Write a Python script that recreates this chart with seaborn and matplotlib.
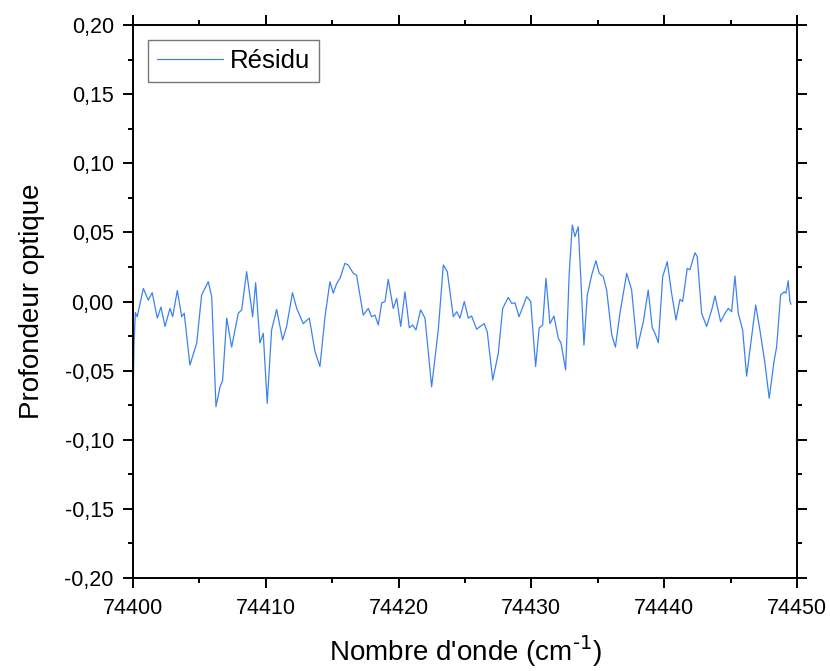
import matplotlib
matplotlib.use("Agg")
import matplotlib.pyplot as plt
import numpy as np
import pandas as pd
import seaborn as sns
from matplotlib.ticker import FuncFormatter, MultipleLocator

# Wavenumber offsets from 74400 cm-1 and residual optical depth
x_offset = [
    0.00, 0.08, 0.18, 0.32, 0.78, 1.15, 1.45, 1.83, 2.11, 2.41, 2.79, 2.99,
    3.34, 3.67, 3.86, 4.29, 4.80, 5.17, 5.67, 5.93, 6.25, 6.55, 6.75, 7.06,
    7.43, 7.93, 8.19, 8.56, 9.01, 9.24, 9.56, 9.81, 10.11, 10.44, 10.82, 11.27,
    11.57, 12.01, 12.33, 12.82, 13.28, 13.70, 14.08, 14.46, 14.83, 15.08, 15.34,
    15.59, 15.96, 16.21, 16.59, 16.84, 17.34, 17.72, 17.97, 18.22, 18.47, 18.73,
    18.98, 19.22, 19.60, 19.86, 20.16, 20.48, 20.81, 21.06, 21.31, 21.66, 21.99,
    22.49, 22.99, 23.37, 23.67, 24.12, 24.38, 24.62, 24.95, 25.25, 25.50, 25.88,
    26.45, 26.68, 27.09, 27.51, 27.84, 28.26, 28.52, 28.77, 29.07, 29.65, 29.95,
    30.32, 30.59, 30.85, 31.10, 31.40, 31.70, 32.03, 32.23, 32.58, 32.85, 33.08,
    33.28, 33.53, 33.73, 33.96, 34.21, 34.54, 34.86, 35.11, 35.41, 35.67, 36.05,
    36.33, 36.67, 37.18, 37.55, 37.97, 38.43, 38.80, 39.10, 39.31, 39.56, 39.89,
    40.23, 40.56, 40.89, 41.19, 41.39, 41.74, 41.94, 42.32, 42.49, 42.82, 43.20,
    43.58, 43.83, 44.25, 44.58, 44.83, 45.08, 45.33, 45.58, 45.91, 46.21, 46.59,
    46.89, 47.21, 47.59, 47.91, 48.27, 48.47, 48.77, 49.04, 49.17, 49.34, 49.47,
    49.55,
]
residu = [
    -0.075, -0.030, -0.008, -0.011, 0.0095, 0.001, 0.0064, -0.012, -0.004, -0.018,
    -0.005, -0.011, 0.008, -0.011, -0.0085, -0.046, -0.030, 0.0047, 0.0143, 0.0035,
    -0.076, -0.062, -0.057, -0.012, -0.033, -0.0085, -0.006, 0.0216, -0.011, 0.0136,
    -0.030, -0.023, -0.0736, -0.0206, -0.0057, -0.0278, -0.018, 0.0064, -0.005,
    -0.016, -0.012, -0.036, -0.047, -0.011, 0.0143, 0.006, 0.013, 0.0168, 0.0276,
    0.0264, 0.0204, 0.019, -0.0098, -0.005, -0.011, -0.0098, -0.017, -0.001, 0.0,
    0.016, -0.005, 0.0023, -0.018, 0.007, -0.019, -0.017, -0.0206, -0.006, -0.012,
    -0.0616, -0.0206, 0.0264, 0.0216, -0.011, -0.0074, -0.012, 0.0, -0.012, -0.0105,
    -0.020, -0.016, -0.022, -0.0568, -0.0375, -0.005, 0.003, -0.0013, -0.001, -0.011,
    0.0035, 0.0, -0.047, -0.019, -0.017, 0.0168, -0.016, -0.0105, -0.0266, -0.030,
    -0.0495, 0.0204, 0.0553, 0.047, 0.054, 0.0155, -0.0315, 0.0047, 0.019, 0.0295,
    0.0204, 0.018, 0.0083, -0.024, -0.033, -0.0085, 0.0204, 0.0083, -0.0339, -0.0146,
    0.0083, -0.019, -0.023, -0.0298, 0.018, 0.0288, 0.006, -0.0134, 0.0016, 0.0,
    0.024, 0.023, 0.0353, 0.0324, -0.0085, -0.018, -0.006, 0.004, -0.0146, -0.0085,
    -0.005, -0.0074, 0.0184, -0.0085, -0.0206, -0.054, -0.0255, -0.0025, -0.0206,
    -0.0447, -0.070, -0.0435, -0.0327, 0.0047, 0.007, 0.006, 0.015, 0.0, -0.002,
]
x_start = 74400

df = pd.DataFrame({"wavenumber": np.array(x_offset) + x_start, "residu": residu})

sns.set_theme(style="ticks")
plt.rcParams["font.family"] = ["Liberation Sans", "DejaVu Sans"]
plt.rcParams["mathtext.default"] = "regular"
plt.rcParams["text.color"] = "black"
plt.rcParams["axes.labelcolor"] = "black"

fig = plt.figure(figsize=(8.3, 6.71), dpi=100)
ax = fig.add_axes([0.1602, 0.1386, 0.8, 0.8241])

sns.lineplot(
    data=df, x="wavenumber", y="residu", ax=ax,
    color="#3d82f0", linewidth=0.9, sort=False, estimator=None, label="Résidu",
)

ax.set_xlim(74400, 74450)
ax.set_ylim(-0.20, 0.20)
ax.xaxis.set_major_locator(MultipleLocator(10))
ax.xaxis.set_minor_locator(MultipleLocator(5))
ax.yaxis.set_major_locator(MultipleLocator(0.05))
ax.yaxis.set_minor_locator(MultipleLocator(0.025))
ax.yaxis.set_major_formatter(FuncFormatter(lambda v, _: f"{v:.2f}".replace(".", ",").replace("-0,00", "0,00")))
ax.xaxis.set_major_formatter(FuncFormatter(lambda v, _: f"{v:.0f}"))

for side in ["left", "right", "top", "bottom"]:
    ax.spines[side].set_visible(True)
    ax.spines[side].set_linewidth(1.4)
    ax.spines[side].set_color("black")

ax.tick_params(which="both", direction="out", top=True, right=True, width=1.4,
               color="black", labelsize=15.5, labelcolor="black")
ax.tick_params(which="major", length=7.3)
ax.tick_params(which="minor", length=3.8)
ax.tick_params(axis="y", which="major", pad=6.5)
ax.tick_params(axis="x", which="major", pad=7)

ax.set_xlabel("Nombre d'onde (cm$^{\\text{-1}}$)", fontsize=20, labelpad=11)
ax.set_ylabel("Profondeur optique", fontsize=20, labelpad=14)

leg = ax.legend(loc="upper left", fontsize=18.5, frameon=True, fancybox=False,
                handlelength=2.6, handletextpad=0.25, borderpad=0.35,
                bbox_to_anchor=(0.022, 0.973), borderaxespad=0.0)
leg.get_frame().set_edgecolor("#555555")
leg.get_frame().set_linewidth(1.0)
for t in leg.get_texts():
    t.set_color("black")

fig.savefig("out.png", dpi=100)
plt.close(fig)
